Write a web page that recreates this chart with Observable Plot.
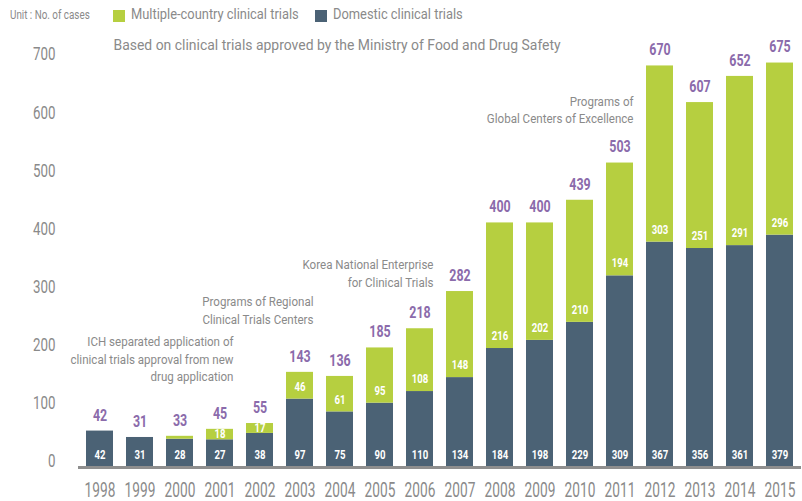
<!DOCTYPE html>
<html><head><meta charset="utf-8">
<script src="https://cdn.jsdelivr.net/npm/d3@7"></script>
<script src="https://cdn.jsdelivr.net/npm/@observablehq/plot@0.6"></script>
<style>
body{margin:0;background:#fff;font-family:Roboto,sans-serif;}
#wrap{position:relative;width:802px;height:501px;overflow:hidden;}
#legend{position:absolute;left:0;top:0;width:802px;height:30px;color:#8a8a8a;}
#legend span{position:absolute;white-space:nowrap;transform-origin:left center;}
#legend .sw{width:12px;height:12px;top:10px;}
#chart{position:absolute;left:0;top:30px;}
</style></head><body>
<div id="wrap">
  <div id="legend"></div>
  <div id="chart"></div>
</div>
<script>
const years = ["1998","1999","2000","2001","2002","2003","2004","2005","2006","2007","2008","2009","2010","2011","2012","2013","2014","2015"];
const domestic = [42,31,28,27,38,97,75,90,110,134,184,198,229,309,367,356,361,379];
const multiCountry = [0,0,5,18,17,46,61,95,108,148,216,202,210,194,303,251,291,296];
const totals = [42,31,33,45,55,143,136,185,218,282,400,400,439,503,670,607,652,675];
const seriesNames = ["Domestic clinical trials","Multiple-country clinical trials"];
const yTicks = [0,100,200,300,400,500,600,700];
const unitLabel = "Unit : No. of cases";
const subtitle = "Based on clinical trials approved by the Ministry of Food and Drug Safety";
const annotationTexts = [
  "ICH separated application of\nclinical trials approval from new\ndrug application",
  "Programs of Regional\nClinical Trials Centers",
  "Korea National Enterprise\nfor Clinical Trials",
  "Programs of\nGlobal Centers of Excellence"
];
const annotationYears = ["2001","2003","2006","2011"];
const annotationLevels = [210,279,342,623];

const GREEN = "#b6cf40", DARK = "#4b6275", PURPLE = "#8b6bab", GRAY = "#8a8a8a";

// legend (HTML, above the SVG)
const legend = document.getElementById("legend");
legend.innerHTML = `
  <span style="left:10px;top:8px;font-size:12px;transform:scaleX(0.82)">${unitLabel}</span>
  <span class="sw" style="left:113px;background:${GREEN}"></span>
  <span style="left:131px;top:6px;font-size:14px;transform:scaleX(0.92)">${seriesNames[1]}</span>
  <span class="sw" style="left:315px;background:${DARK}"></span>
  <span style="left:333px;top:6px;font-size:14px;transform:scaleX(0.92)">${seriesNames[0]}</span>`;

const yearRows = years.map((y, i) => ({year: y, dom: domestic[i], multi: multiCountry[i], total: totals[i]}));
const annRows = annotationTexts.map((t, i) => ({text: t, year: annotationYears[i], level: annotationLevels[i]}));

const chart = Plot.plot({
  width: 802,
  height: 471,
  marginLeft: 78,
  marginRight: 1,
  marginTop: 18,
  marginBottom: 46,
  style: {fontFamily: "Roboto, sans-serif", background: "white"},
  x: {domain: years, paddingInner: 0.325, paddingOuter: 0.2, label: null},
  y: {domain: [0, 700], label: null},
  marks: [
    Plot.barY(yearRows, {x: "year", y1: 0, y2: "dom", fill: DARK, insetBottom: -12}),
    Plot.barY(yearRows, {x: "year", y1: "dom", y2: d => d.dom + d.multi, fill: GREEN}),
    Plot.ruleY([0], {stroke: "#8e8e8e", strokeWidth: 3, dy: 12}),
    Plot.axisY({ticks: yTicks, tickSize: 0, tickPadding: 23, fontSize: 18.5, dy: 6, color: GRAY, label: null}),
    Plot.axisX({tickSize: 0, tickPadding: 27, fontSize: 20, color: GRAY, label: null}),
    Plot.text(yearRows, {x: "year", y: "total", text: d => String(d.total), dy: -16, fill: PURPLE, fontSize: 17, fontWeight: "bold"}),
    Plot.text(yearRows, {x: "year", y: 0, text: d => String(d.dom), dy: 0, fill: "white", fontSize: 12, fontWeight: "bold"}),
    Plot.text(yearRows.filter(d => d.multi >= 10), {x: "year", y: d => d.dom + Math.min(d.multi / 2, 21), text: d => String(d.multi), fill: "white", fontSize: 12, fontWeight: "bold"}),
    Plot.text(annRows, {x: "year", y: "level", text: "text", dx: 13.5, textAnchor: "end", lineAnchor: "top", lineHeight: 1.36, fontSize: 13, fill: GRAY}),
    Plot.text([subtitle], {frameAnchor: "top-left", dx: 35, dy: -3, text: d => d, textAnchor: "start", lineAnchor: "middle", fontSize: 15, fill: GRAY})
  ]
});
document.getElementById("chart").appendChild(chart);

// condense the glyphs horizontally (the reference uses a condensed typeface)
const kBySize = {"12": 0.8, "13": 0.89, "15": 0.93, "17": 0.73, "18.5": 0.72, "20": 0.685};
chart.querySelectorAll("text").forEach(t => {
  const g = t.closest("[font-size]");
  const k = g ? kBySize[g.getAttribute("font-size")] : null;
  if (!k) return;
  const prev = t.getAttribute("transform") || "";
  t.setAttribute("transform", `${prev} scale(${k},1)`.trim());
});
</script>
</body></html>
